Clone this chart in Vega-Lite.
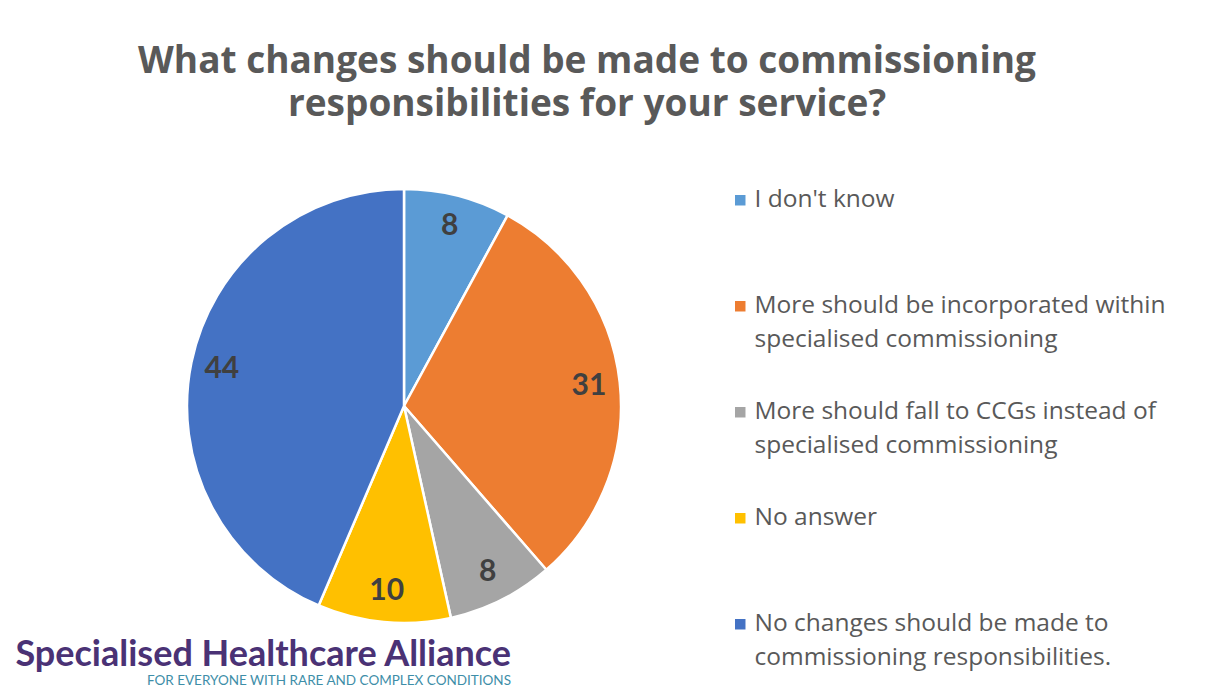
{
  "$schema": "https://vega.github.io/schema/vega-lite/v6.json",
  "background": "white",
  "padding": {"left": 0, "top": 43, "right": 0, "bottom": 20},
  "title": {
    "text": ["What changes should be made to commissioning", "responsibilities for your service?"],
    "font": "Open Sans",
    "fontSize": 37,
    "fontWeight": "bold",
    "color": "#595959",
    "lineHeight": 43,
    "anchor": "middle",
    "frame": "bounds",
    "dx": 4,
    "offset": 60
  },
  "config": {
    "view": {"stroke": null},
    "concat": {"spacing": 0},
    "style": {"guide-label": {"lineHeight": 34}}
  },
  "vconcat": [
    {
      "width": 808,
      "height": 434,
      "title": {
        "text": "Specialised Healthcare Alliance",
        "subtitle": "FOR EVERYONE WITH RARE AND COMPLEX CONDITIONS",
        "orient": "bottom",
        "anchor": "start",
        "align": "right",
        "dx": 511,
        "offset": 10,
        "font": "Lato",
        "fontSize": 36,
        "fontWeight": "bold",
        "color": "#4A3275",
        "subtitleFont": "Lato",
        "subtitleFontSize": 13.5,
        "subtitleColor": "#3E8EA8",
        "subtitlePadding": 0
      },
      "data": {
        "values": [
          {"answer": "I don't know", "count": 8, "order": 1},
          {"answer": "More should be incorporated within specialised commissioning", "count": 31, "order": 2},
          {"answer": "More should fall to CCGs instead of specialised commissioning", "count": 8, "order": 3},
          {"answer": "No answer", "count": 10, "order": 4},
          {"answer": "No changes should be made to commissioning responsibilities.", "count": 44, "order": 5}
        ]
      },
      "layer": [
        {
          "mark": {"type": "arc", "radius": 217, "stroke": "white", "strokeWidth": 2.5},
          "encoding": {
            "theta": {"field": "count", "type": "quantitative", "stack": true},
            "order": {"field": "order", "type": "quantitative"},
            "color": {
              "field": "answer",
              "type": "nominal",
              "scale": {
                "domain": [
                  "I don't know",
                  "More should be incorporated within specialised commissioning",
                  "More should fall to CCGs instead of specialised commissioning",
                  "No answer",
                  "No changes should be made to commissioning responsibilities."
                ],
                "range": ["#5B9BD5", "#ED7D31", "#A5A5A5", "#FFC000", "#4472C4"]
              },
              "legend": {
                "title": null,
                "orient": "none",
                "legendX": 728,
                "legendY": -1,
                "symbolType": "square",
                "symbolSize": 110,
                "symbolStrokeWidth": 0,
                "labelFont": "Open Sans",
                "labelFontSize": 24.5,
                "labelColor": "#595959",
                "labelOffset": 2,
                "labelLimit": 600,
                "labelBaseline": "middle",
                "rowPadding": 47,
                "labelExpr": "datum.label == 'More should be incorporated within specialised commissioning' ? ['More should be incorporated within', 'specialised commissioning'] : datum.label == 'More should fall to CCGs instead of specialised commissioning' ? ['More should fall to CCGs instead of', 'specialised commissioning'] : datum.label == 'No changes should be made to commissioning responsibilities.' ? ['No changes should be made to', 'commissioning responsibilities.'] : [datum.label, ' ']"
              }
            }
          }
        },
        {
          "mark": {"type": "text", "radius": 186, "font": "Lato", "fontSize": 30, "fontWeight": "bold", "color": "#404040"},
          "encoding": {
            "theta": {"field": "count", "type": "quantitative", "stack": true},
            "order": {"field": "order", "type": "quantitative"},
            "text": {"field": "count", "type": "quantitative"}
          }
        }
      ]
    }
  ]
}
